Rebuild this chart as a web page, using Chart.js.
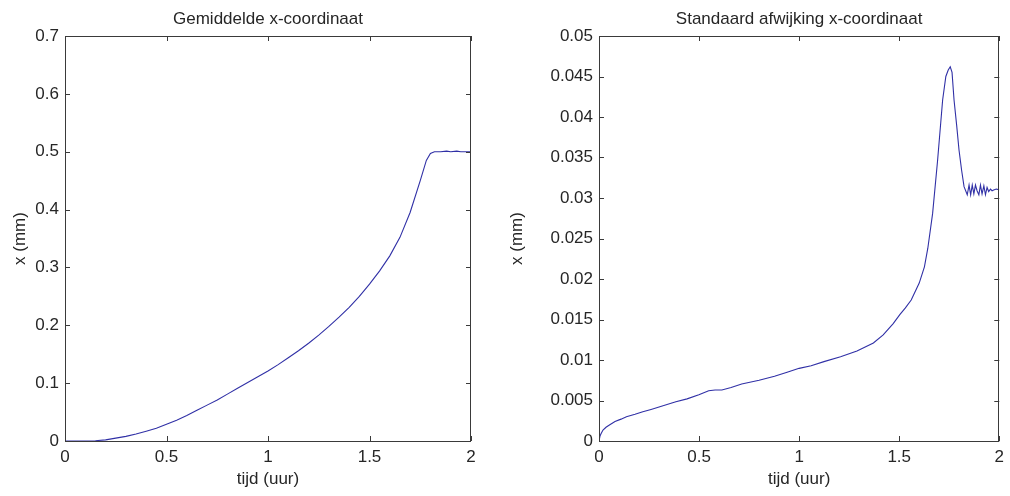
<!DOCTYPE html>
<html>
<head>
<meta charset="utf-8">
<script src="https://cdn.jsdelivr.net/npm/chart.js@4"></script>
<style>
  html, body { margin: 0; padding: 0; background: #fff; }
  #wrap { position: relative; width: 1010px; height: 496px; }
  .pane { position: absolute; top: 0; width: 505px; height: 496px; }
</style>
</head>
<body>
<div id="wrap">
  <div class="pane" style="left:0"><canvas id="meanChart" width="505" height="496"></canvas></div>
  <div class="pane" style="left:505px"><canvas id="stdChart" width="505" height="496"></canvas></div>
</div>
<script>
// gemiddelde x-coordinaat (mm) tegen tijd (uur)
const meanTime = [0, 0.05, 0.1, 0.15, 0.2, 0.25, 0.3, 0.35, 0.4, 0.45, 0.5, 0.55, 0.6, 0.65, 0.7, 0.75, 0.8, 0.85, 0.9, 0.95,
                  1.0, 1.05, 1.1, 1.15, 1.2, 1.25, 1.3, 1.35, 1.4, 1.45, 1.5, 1.55, 1.6, 1.65, 1.7, 1.75, 1.78, 1.8, 1.82,
                  1.85, 1.88, 1.9, 1.93, 1.95, 1.98, 2.0];
const meanX = [0, 0, 0, 0.0005, 0.002, 0.005, 0.008, 0.012, 0.017, 0.022, 0.029, 0.036, 0.044, 0.053, 0.062, 0.071, 0.081,
               0.091, 0.101, 0.111, 0.121, 0.132, 0.144, 0.156, 0.169, 0.183, 0.198, 0.214, 0.231, 0.25, 0.271, 0.294,
               0.32, 0.352, 0.395, 0.45, 0.485, 0.497, 0.5, 0.5, 0.501, 0.5, 0.501, 0.5, 0.5, 0.5];

// standaard afwijking x-coordinaat (mm) tegen tijd (uur)
const stdTime = [0, 0.005, 0.01, 0.02, 0.035, 0.054, 0.08, 0.11, 0.137, 0.18, 0.219, 0.26, 0.3, 0.34, 0.384, 0.44, 0.499,
                 0.548, 0.58, 0.614, 0.66, 0.713, 0.8, 0.877, 0.94, 1.0, 1.06, 1.124, 1.207, 1.289, 1.371, 1.42, 1.47,
                 1.503, 1.53, 1.56, 1.6, 1.626, 1.643, 1.667, 1.692, 1.717, 1.733, 1.745, 1.755, 1.764, 1.774, 1.787,
                 1.799, 1.812, 1.824, 1.84, 1.849, 1.857, 1.865, 1.873, 1.881, 1.889, 1.898, 1.906, 1.914, 1.923, 1.931,
                 1.939, 1.947, 1.956, 1.964, 1.972, 1.985, 2.0];
const stdX = [0, 0.0006, 0.0009, 0.00136, 0.0017, 0.002, 0.0024, 0.0027, 0.003, 0.0033, 0.0036, 0.0039, 0.0042, 0.0045,
              0.00485, 0.0052, 0.0057, 0.0062, 0.0063, 0.0063, 0.0066, 0.00704, 0.0075, 0.008, 0.0085, 0.00897, 0.0093,
              0.0098, 0.0104, 0.0111, 0.0121, 0.0131, 0.0145, 0.0156, 0.0164, 0.0174, 0.0195, 0.0215, 0.0238, 0.0281,
              0.0347, 0.0421, 0.045, 0.0458, 0.0462, 0.0455, 0.0421, 0.039, 0.0359, 0.0334, 0.0314, 0.0304, 0.0316,
              0.0304, 0.0316, 0.0305, 0.0316, 0.0309, 0.0304, 0.0316, 0.0305, 0.0315, 0.0304, 0.0313, 0.0308, 0.0311,
              0.0309, 0.031, 0.0311, 0.031];

const timeTicks = [0, 0.5, 1, 1.5, 2];
const meanTicks = [0, 0.1, 0.2, 0.3, 0.4, 0.5, 0.6, 0.7];
const stdTicks = [0, 0.005, 0.01, 0.015, 0.02, 0.025, 0.03, 0.035, 0.04, 0.045, 0.05];

const FONT = 'Arial, "Liberation Sans", Helvetica, sans-serif';
const INK = '#262626';

// kader rond de assen met korte streepjes naar binnen, plus de titel boven het kader
const boxTicks = {
  id: 'boxTicks',
  afterDatasetsDraw(chart, args, opts) {
    const { ctx, chartArea: a, scales: { x, y } } = chart;
    const len = 5;
    ctx.save();
    ctx.strokeStyle = '#3a3a3a';
    ctx.lineWidth = 1;
    ctx.beginPath();
    x.ticks.forEach(t => {
      const px = Math.round(x.getPixelForValue(t.value)) + 0.5;
      ctx.moveTo(px, a.bottom); ctx.lineTo(px, a.bottom - len);
      ctx.moveTo(px, a.top); ctx.lineTo(px, a.top + len);
    });
    y.ticks.forEach(t => {
      const py = Math.round(y.getPixelForValue(t.value)) + 0.5;
      ctx.moveTo(a.left, py); ctx.lineTo(a.left + len, py);
      ctx.moveTo(a.right, py); ctx.lineTo(a.right - len, py);
    });
    ctx.stroke();
    ctx.strokeRect(Math.round(a.left) + 0.5, Math.round(a.top) + 0.5,
                   Math.round(a.right - a.left) - 1, Math.round(a.bottom - a.top));

    ctx.fillStyle = INK;
    ctx.font = '17px ' + FONT;
    ctx.textAlign = 'center';
    ctx.textBaseline = 'alphabetic';
    ctx.fillText(opts.text, (a.left + a.right) / 2, 24);
    ctx.restore();
  }
};

const fmt = v => String(Number(v.toFixed(4)));

function makeChart(id, title, times, values, yTicks, yMax, leftWidth, rightPad, yTitlePad) {
  const points = times.map((t, i) => ({ x: t, y: values[i] }));
  return new Chart(document.getElementById(id), {
    type: 'line',
    data: {
      datasets: [{
        data: points,
        borderColor: '#3030a6',
        borderWidth: 1.1,
        pointRadius: 0,
        tension: 0,
        fill: false
      }]
    },
    options: {
      responsive: false,
      animation: false,
      layout: { padding: { left: 0, right: rightPad, top: 36, bottom: 0 } },
      plugins: {
        legend: { display: false },
        tooltip: { enabled: false },
        title: { display: false },
        boxTicks: { text: title }
      },
      scales: {
        x: {
          type: 'linear',
          min: 0,
          max: 2,
          afterBuildTicks: s => { s.ticks = timeTicks.map(v => ({ value: v })); },
          afterFit: s => { s.height = 55; },
          grid: { display: false, drawTicks: false },
          border: { display: false },
          ticks: { color: INK, font: { family: FONT, size: 17 }, padding: 6, maxRotation: 0, callback: fmt },
          title: {
            display: true,
            text: 'tijd (uur)',
            color: INK,
            font: { family: FONT, size: 17 },
            padding: { top: 0, bottom: 6 }
          }
        },
        y: {
          type: 'linear',
          min: 0,
          max: yMax,
          afterBuildTicks: s => { s.ticks = yTicks.map(v => ({ value: v })); },
          afterFit: s => { s.width = leftWidth; },
          grid: { display: false, drawTicks: false },
          border: { display: false },
          ticks: { color: INK, font: { family: FONT, size: 17 }, padding: 6, callback: fmt },
          title: {
            display: true,
            text: 'x (mm)',
            color: INK,
            font: { family: FONT, size: 17 },
            padding: { top: yTitlePad, bottom: 0 }
          }
        }
      }
    },
    plugins: [boxTicks]
  });
}

makeChart('meanChart', 'Gemiddelde x-coordinaat', meanTime, meanX, meanTicks, 0.7, 65, 34, 10);
makeChart('stdChart', 'Standaard afwijking x-coordinaat', stdTime, stdX, stdTicks, 0.05, 94, 6, 2);
</script>
</body>
</html>
